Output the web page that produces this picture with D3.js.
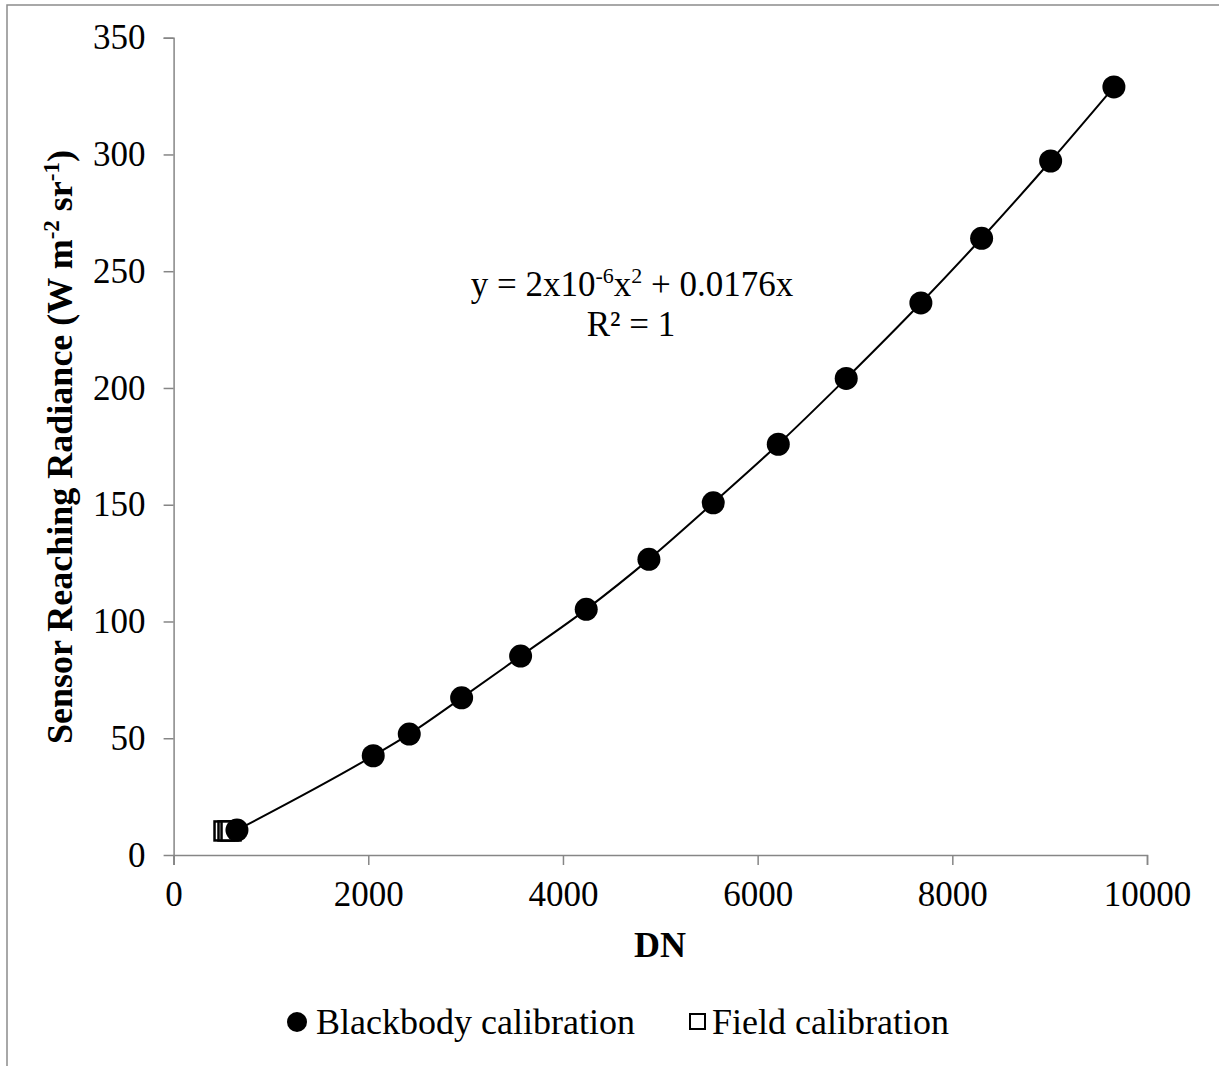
<!DOCTYPE html>
<html>
<head>
<meta charset="utf-8">
<script src="https://cdn.jsdelivr.net/npm/d3@7"></script>
<style>
  body { margin: 0; background: white; }
  text { font-family: "Liberation Serif", "Times New Roman", serif; fill: black; }
</style>
</head>
<body>
<div id="chart"></div>
<script>
// Blackbody calibration points (DN vs radiance)
const bbDN  = [651, 2051, 2421, 2959, 3565, 4239, 4883, 5544, 6212, 6910, 7677, 8301, 9010, 9660];
const bbRad = [10.7, 42.5, 51.8, 67.3, 85.2, 105.2, 126.6, 150.8, 175.9, 204.1, 236.4, 264.1, 297.2, 328.9];

// Field calibration points (clustered near the origin)
const fieldDN  = [518, 559, 590];
const fieldRad = [10.3, 10.3, 10.3];

const xTicks = [0, 2000, 4000, 6000, 8000, 10000];
const yTicks = [0, 50, 100, 150, 200, 250, 300, 350];
const seriesNames = ["Blackbody calibration", "Field calibration"];

const W = 1219, H = 1066;
const margin = {top: 37.7, right: 72, bottom: 211, left: 173.6},
    width = W - margin.left - margin.right,
    height = H - margin.top - margin.bottom;

const root = d3.select("#chart")
  .append("svg")
    .attr("width", W)
    .attr("height", H);

// outer chart frame (cropped on right and bottom)
root.append("rect")
  .attr("x", 7).attr("y", 5)
  .attr("width", 1400).attr("height", 1400)
  .attr("fill", "none")
  .attr("stroke", "#8c8c8c")
  .attr("stroke-width", 1.5);

const svg = root.append("g")
  .attr("transform", `translate(${margin.left},${margin.top})`);

const x = d3.scaleLinear().domain([0, 10000]).range([0, width]);
const y = d3.scaleLinear().domain([0, 350]).range([height, 0]);

const axisColor = "#868686";

// X axis
const gx = svg.append("g")
  .attr("transform", `translate(0,${height})`)
  .call(d3.axisBottom(x).tickValues(xTicks).tickSize(10).tickPadding(16).tickFormat(d3.format("d")));

// Y axis
const gy = svg.append("g")
  .call(d3.axisLeft(y).tickValues(yTicks).tickSize(10).tickPadding(18));

[gx, gy].forEach(g => {
  g.select(".domain").attr("stroke", axisColor).attr("stroke-width", 1.5);
  g.selectAll(".tick line").attr("stroke", axisColor).attr("stroke-width", 1.5);
  g.selectAll(".tick text")
    .style("font-family", "'Liberation Serif', 'Times New Roman', serif")
    .style("font-size", "35px")
    .attr("fill", "black");
});
// the y axis line runs down to the x tick length, like the original
gy.select(".domain").attr("d", `M-10,0.5H0.5V${height + 10}`);

// small helper: text with raised superscript parts [text, isSup]
function richText(sel, parts, supSize) {
  parts.forEach(([t, sup], i) => {
    const prevSup = i > 0 && parts[i - 1][1];
    const ts = sel.append("tspan").text(t);
    if (sup && !prevSup) ts.attr("dy", -13);
    if (!sup && prevSup) ts.attr("dy", 13);
    if (sup) ts.style("font-size", supSize + "px");
  });
}

// axis titles
svg.append("text")
  .attr("x", 660 - margin.left)
  .attr("y", 957 - margin.top)
  .attr("text-anchor", "middle")
  .style("font-size", "36px")
  .style("font-weight", "bold")
  .text("DN");

const yTitle = svg.append("text")
  .attr("transform", `translate(${72 - margin.left},${447 - margin.top}) rotate(-90)`)
  .attr("text-anchor", "middle")
  .style("font-size", "36px")
  .style("font-weight", "bold");
richText(yTitle, [["Sensor Reaching Radiance (W m", false], ["-2", true], [" sr", false], ["-1", true], [")", false]], 23);

// trendline through the blackbody points
const bbData = bbDN.map((d, i) => ({dn: d, rad: bbRad[i]}));
const fieldData = fieldDN.map((d, i) => ({dn: d, rad: fieldRad[i]}));

svg.append("path")
  .datum(bbData)
  .attr("fill", "none")
  .attr("stroke", "black")
  .attr("stroke-width", 2)
  .attr("d", d3.line().x(d => x(d.dn)).y(d => y(d.rad)).curve(d3.curveMonotoneX));

// field calibration squares
svg.selectAll(".field")
  .data(fieldData)
  .join("rect")
    .attr("class", "field")
    .attr("x", d => x(d.dn) - 9.5)
    .attr("y", d => y(d.rad) - 9.5)
    .attr("width", 19)
    .attr("height", 19)
    .attr("fill", "white")
    .attr("stroke", "black")
    .attr("stroke-width", 2.5);

// blackbody circles
svg.selectAll(".bb")
  .data(bbData)
  .join("circle")
    .attr("class", "bb")
    .attr("cx", d => x(d.dn))
    .attr("cy", d => y(d.rad))
    .attr("r", 11.5)
    .attr("fill", "black");

// equation label
const eq = root.append("text")
  .attr("x", 632).attr("y", 296)
  .attr("text-anchor", "middle")
  .style("font-size", "35px");
richText(eq, [["y = 2x10", false], ["-6", true], ["x", false], ["2", true], [" + 0.0176x", false]], 22);

root.append("text")
  .attr("x", 631).attr("y", 336)
  .attr("text-anchor", "middle")
  .style("font-size", "35px")
  .text("R² = 1");

// legend
const legend = root.append("g");
legend.append("circle")
  .attr("cx", 297).attr("cy", 1022).attr("r", 10)
  .attr("fill", "black");
legend.append("text")
  .attr("x", 316).attr("y", 1034)
  .style("font-size", "36px")
  .text(seriesNames[0]);
legend.append("rect")
  .attr("x", 690).attr("y", 1014).attr("width", 15).attr("height", 15)
  .attr("fill", "white").attr("stroke", "black").attr("stroke-width", 2);
legend.append("text")
  .attr("x", 712).attr("y", 1034)
  .style("font-size", "36px")
  .text(seriesNames[1]);
</script>
</body>
</html>
